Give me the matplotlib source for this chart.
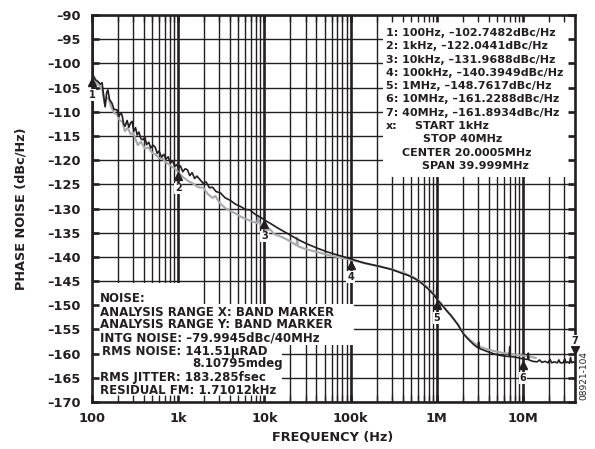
import matplotlib
matplotlib.use('Agg')
import matplotlib.pyplot as plt
from matplotlib.patches import Rectangle

plt.rcParams['font.family'] = ['DejaVu Sans']
plt.rcParams['font.weight'] = 'bold'
plt.rcParams['axes.labelweight'] = 'bold'

# measured trace (black)
black_f = [100, 104, 110, 118, 125, 131, 136, 142, 148, 153, 160, 170, 180, 195, 205, 215, 223, 233, 242,
           255, 268, 280, 292, 305, 320, 334, 350, 370, 391, 410, 430, 455, 480, 510, 540, 570, 600, 640,
           680, 720, 765, 810, 860, 910, 960, 1000, 1060, 1130, 1200, 1280, 1360, 1450, 1550, 1650, 1800,
           1950, 2100, 2300, 2500, 2750, 3100, 3500, 4000, 4600, 5300, 6000, 6800, 7800, 9000, 10300,
           12000, 14500, 17000, 20000, 25000, 31000, 41000, 52000, 70000, 100e3, 140e3, 220e3, 300e3,
           380e3, 460e3, 540e3, 620e3, 700e3, 780e3, 850e3, 920e3, 0.99e6, 1e6, 1.01e6, 1.1e6, 1.2e6,
           1.32e6, 1.45e6, 1.6e6, 1.75e6, 1.9e6, 2.05e6, 2.3e6, 2.7e6, 3.0e6, 3.05e6, 3.1e6, 3.5e6, 3.9e6,
           4.5e6, 5.2e6, 6.0e6, 6.9e6, 7.0e6, 7.1e6, 8.0e6, 9.0e6, 10e6, 11.3e6, 11.5e6, 11.7e6, 13e6,
           14.6e6, 15.5e6, 16.5e6, 18e6, 19.5e6, 20.5e6, 21.5e6, 23e6, 25e6, 26e6, 27e6, 29e6, 30.5e6,
           31.5e6, 33e6, 34.5e6, 35.5e6, 36.5e6, 38e6, 40e6]
black_db = [-103.0, -102.6, -103.4, -103.8, -104.3, -104.0, -106.5, -109.0, -106.0, -105.5, -107.5, -108.2,
            -109.5, -109.6, -111.0, -110.2, -110.7, -112.5, -113.0, -111.8, -113.2, -112.3, -112.0, -114.0,
            -113.3, -114.8, -114.2, -115.6, -115.8, -115.2, -116.8, -116.3, -117.5, -116.9, -117.3, -118.6,
            -118.1, -119.4, -118.8, -119.8, -119.3, -120.6, -120.1, -121.3, -120.9, -121.6, -121.2, -122.4,
            -121.8, -122.0, -123.2, -122.6, -123.8, -123.3, -124.1, -124.8, -124.5, -125.7, -125.6, -126.5,
            -126.8, -127.8, -128.3, -129.1, -129.6, -130.2, -130.3, -131.2, -131.8, -132.5, -133.2, -134.1,
            -134.8, -135.5, -136.5, -137.3, -138.2, -138.9, -139.6, -140.4, -141.2, -142.0, -142.6, -143.3,
            -143.8, -144.4, -145.0, -145.8, -146.5, -147.2, -147.8, -148.6, -145.5, -148.9, -149.6, -150.4,
            -151.3, -152.1, -153.1, -154.0, -155.1, -156.0, -157.0, -158.2, -158.8, -157.6, -158.9, -159.3,
            -159.6, -160.0, -160.3, -160.5, -160.6, -158.6, -160.6, -160.7, -160.9, -161.1, -161.2, -159.9,
            -161.3, -161.6, -161.7, -161.3, -161.8, -161.6, -161.9, -161.2, -161.9, -161.7, -161.9, -161.3,
            -161.9, -161.9, -161.1, -161.9, -161.7, -162.0, -160.8, -161.9, -161.7, -161.8]

# reference trace (gray)
gray_f = [100, 106, 115, 125, 132, 140, 146, 155, 165, 180, 195, 210, 225, 240, 260, 280, 300, 340, 370,
          410, 450, 500, 550, 600, 660, 720, 790, 850, 920, 1000, 1140, 1300, 1500, 1700, 1950, 2200, 2500,
          2700, 3000, 3500, 4000, 4600, 5300, 6200, 7200, 8200, 8500, 8800, 10800, 11500, 13000, 16000,
          20000, 23500, 24000, 24500, 30000, 41000, 60000, 80000, 100e3, 150e3, 220e3, 300e3, 400e3,
          410e3, 420e3, 540e3, 700e3, 850e3, 1e6, 1.2e6, 1.45e6, 1.75e6, 2.05e6, 2.4e6, 2.8e6, 3.3e6,
          4e6, 5e6, 6e6, 7e6, 8e6, 9e6, 10e6, 12e6, 14e6]
gray_db = [-103.5, -103.2, -104.2, -104.8, -105.5, -108.3, -107.5, -107.0, -108.8, -110.2, -110.6, -111.8,
           -112.0, -114.0, -113.3, -114.6, -114.4, -116.9, -116.2, -117.6, -117.4, -118.5, -118.9, -119.6,
           -119.7, -120.5, -120.9, -121.4, -121.8, -122.5, -123.5, -124.3, -124.9, -125.6, -125.7, -127.0,
           -127.8, -127.4, -128.8, -129.9, -130.5, -131.0, -131.7, -132.2, -132.7, -133.0, -131.8, -133.2,
           -134.8, -134.2, -135.3, -135.9, -136.8, -137.6, -136.0, -137.8, -138.4, -139.0, -139.8, -140.2,
           -140.6, -141.4, -142.0, -142.6, -143.3, -142.9, -143.4, -144.2, -145.6, -147.0, -148.6, -150.3,
           -152.0, -153.9, -155.9, -157.1, -158.0, -158.7, -159.2, -159.6, -159.9, -160.0, -160.2, -160.3,
           -160.4, -160.6, -160.9]

marker_f = [100, 1e3, 10e3, 100e3, 1e6, 10e6, 40e6]
marker_db = [-102.7482, -122.0441, -131.9688, -140.3949, -148.7617, -161.2288, -161.8934]
marker_names = ['1', '2', '3', '4', '5', '6', '7']

x_ticks = [100, 1e3, 10e3, 100e3, 1e6, 10e6]
x_labels = ['100', '1k', '10k', '100k', '1M', '10M']
y_ticks = list(range(-170, -89, 5))
y_labels = ['\u2013%d' % -v for v in y_ticks]

marker_text = ['1: 100Hz, \u2013102.7482dBc/Hz',
               '2: 1kHz, \u2013122.0441dBc/Hz',
               '3: 10kHz, \u2013131.9688dBc/Hz',
               '4: 100kHz, \u2013140.3949dBc/Hz',
               '5: 1MHz, \u2013148.7617dBc/Hz',
               '6: 10MHz, \u2013161.2288dBc/Hz',
               '7: 40MHz, \u2013161.8934dBc/Hz']

ink = '#231f20'
fig = plt.figure(figsize=(5.95, 4.49), dpi=100)
W, H = 595.0, 449.0
ax = fig.add_axes([92 / W, 47 / H, 483 / W, 387 / H])
ax.set_xscale('log')
ax.set_xlim(100, 40e6)
ax.set_ylim(-170, -90)

# grid drawn by hand so the white boxes can cover it
decades = [100, 1e3, 1e4, 1e5, 1e6, 1e7]
minors = [m * d for d in decades for m in range(2, 10) if m * d < 40e6]
ax.vlines(minors, -170, -90, color=ink, lw=1.0, zorder=1)
ax.vlines(decades, -170, -90, color=ink, lw=1.9, zorder=1)
ax.hlines(y_ticks, 100, 40e6, color=ink, lw=1.0, zorder=1)

def px_box(x0, y0, x1, y1):
    # pixel rectangle -> axes fraction
    fx0 = (x0 - 92) / 483.0
    fx1 = (x1 - 92) / 483.0
    fy0 = (402 - y1) / 387.0
    fy1 = (402 - y0) / 387.0
    ax.add_patch(Rectangle((fx0, fy0), fx1 - fx0, fy1 - fy0, transform=ax.transAxes,
                           facecolor='white', edgecolor='none', zorder=1.5))

px_box(383, 15, 569, 177)
px_box(92, 283, 200, 305)
px_box(92, 304, 354, 345)
px_box(92, 344, 282, 402)

ax.plot(gray_f, gray_db, color='#a7a9ac', lw=1.5, zorder=2)
ax.plot(black_f, black_db, color=ink, lw=1.2, zorder=2.2)

# markers
for f, v, name in zip(marker_f, marker_db, marker_names):
    if name == '7':
        ax.plot(f, v + 2.7, marker='v', color=ink, ms=6, clip_on=False, zorder=4)
        ty = v + 4.6
    else:
        ax.plot(f, v - 1.2, marker='^', color=ink, ms=6, clip_on=False, zorder=4)
        ty = v - 3.8
    ax.text(f, ty, name, ha='center', va='center', fontsize=7, color=ink, zorder=4,
            bbox=dict(facecolor='white', edgecolor='none', pad=0.6))

def px_text(x, y, s, size):
    ax.text((x - 92) / 483.0, (402 - y) / 387.0, s, transform=ax.transAxes, ha='left', va='center',
            fontsize=size, color=ink, zorder=3)

for i, s in enumerate(marker_text):
    px_text(386, 33 + 13.3 * i, s, 8.0)
px_text(386, 126, 'x:', 8.0)
px_text(415, 126, 'START 1kHz', 8.0)
px_text(423, 139, 'STOP 40MHz', 8.0)
px_text(402, 153, 'CENTER 20.0005MHz', 8.0)
px_text(422, 166, 'SPAN 39.999MHz', 8.0)

px_text(100, 298, 'NOISE:', 8.5)
px_text(100, 312, 'ANALYSIS RANGE X: BAND MARKER', 8.5)
px_text(100, 325, 'ANALYSIS RANGE Y: BAND MARKER', 8.5)
px_text(100, 338, 'INTG NOISE: \u201379.9945dBc/40MHz', 8.5)
px_text(102, 351, 'RMS NOISE: 141.51\u00b5RAD', 8.5)
px_text(192, 364, '8.10795mdeg', 8.5)
px_text(100, 378, 'RMS JITTER: 183.285fsec', 8.5)
px_text(100, 391, 'RESIDUAL FM: 1.71012kHz', 8.5)

ax.set_axisbelow(False)
ax.set_xticks(x_ticks, x_labels)
ax.set_yticks(y_ticks, y_labels)
ax.xaxis.set_minor_locator(matplotlib.ticker.FixedLocator(minors))
ax.xaxis.set_minor_formatter(matplotlib.ticker.NullFormatter())
ax.tick_params(which='both', direction='in', top=True, right=True, color=ink,
               labelsize=9.3, labelcolor=ink)
ax.tick_params(axis='x', pad=7)
ax.tick_params(axis='y', pad=8)
ax.tick_params(which='major', length=5, width=1.9)
ax.tick_params(which='minor', length=5, width=1.0)
for sp in ax.spines.values():
    sp.set_linewidth(1.9)
    sp.set_color(ink)

ax.set_xlabel('FREQUENCY (Hz)', fontsize=9.3, color=ink)
ax.set_ylabel('PHASE NOISE (dBc/Hz)', fontsize=9.3, color=ink)
ax.xaxis.set_label_coords((333 - 92) / 483.0, (402 - 431) / 387.0)
ax.yaxis.set_label_coords((28 - 92) / 483.0, 0.5)

fig.text(584 / W, 1 - 376 / H, '08921-104', rotation=90, ha='center', va='center',
         fontsize=6.5, fontweight='normal', color=ink)

fig.savefig('out.png', dpi=100)
